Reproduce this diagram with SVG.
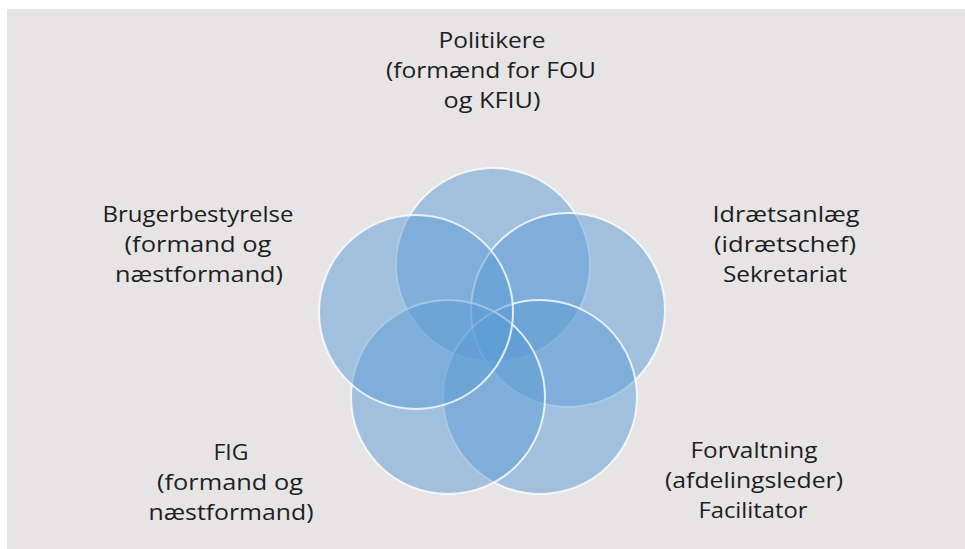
<svg xmlns="http://www.w3.org/2000/svg" width="965" height="549" viewBox="0 0 965 549">
  <style>
    .c { fill: #5b9bd5; fill-opacity: 0.5; stroke: #ffffff; stroke-opacity: 0.8; stroke-width: 2; }
    .t { font-family: "Open Sans", "Liberation Sans", sans-serif; font-size: 22px; fill: #1e1e1e; text-anchor: middle; }
  </style>
  <rect x="0" y="0" width="965" height="549" fill="#ffffff"/>
  <rect x="7" y="9" width="958" height="540" fill="#e7e4e5"/>
  <g id="connectors"/>
  <g id="node-politikere">
    <circle class="c" cx="493" cy="265" r="97"/>
    <text class="t"><tspan x="492" y="48" textLength="107" lengthAdjust="spacingAndGlyphs">Politikere</tspan><tspan x="491" y="78" textLength="210" lengthAdjust="spacingAndGlyphs">(formænd for FOU</tspan><tspan x="492" y="108" textLength="97" lengthAdjust="spacingAndGlyphs">og KFIU)</tspan></text>
  </g>
  <g id="node-idraetsanlaeg">
    <circle class="c" cx="568" cy="310" r="97"/>
    <text class="t"><tspan x="786" y="222" textLength="147" lengthAdjust="spacingAndGlyphs">Idrætsanlæg</tspan><tspan x="785" y="252" textLength="142" lengthAdjust="spacingAndGlyphs">(idrætschef)</tspan><tspan x="785" y="282" textLength="124" lengthAdjust="spacingAndGlyphs">Sekretariat</tspan></text>
  </g>
  <g id="node-forvaltning">
    <circle class="c" cx="540" cy="397" r="97"/>
    <text class="t"><tspan x="754" y="458" textLength="127" lengthAdjust="spacingAndGlyphs">Forvaltning</tspan><tspan x="754" y="488" textLength="178" lengthAdjust="spacingAndGlyphs">(afdelingsleder)</tspan><tspan x="753" y="518" textLength="109" lengthAdjust="spacingAndGlyphs">Facilitator</tspan></text>
  </g>
  <g id="node-fig">
    <circle class="c" cx="448" cy="397" r="97"/>
    <text class="t"><tspan x="231" y="460" textLength="35" lengthAdjust="spacingAndGlyphs">FIG</tspan><tspan x="230" y="490" textLength="146" lengthAdjust="spacingAndGlyphs">(formand og</tspan><tspan x="231" y="520" textLength="165" lengthAdjust="spacingAndGlyphs">næstformand)</tspan></text>
  </g>
  <g id="node-brugerbestyrelse">
    <circle class="c" cx="416" cy="312" r="97"/>
    <text class="t"><tspan x="198" y="222" textLength="191" lengthAdjust="spacingAndGlyphs">Brugerbestyrelse</tspan><tspan x="198" y="252" textLength="147" lengthAdjust="spacingAndGlyphs">(formand og</tspan><tspan x="199" y="282" textLength="168" lengthAdjust="spacingAndGlyphs">næstformand)</tspan></text>
  </g>
</svg>
